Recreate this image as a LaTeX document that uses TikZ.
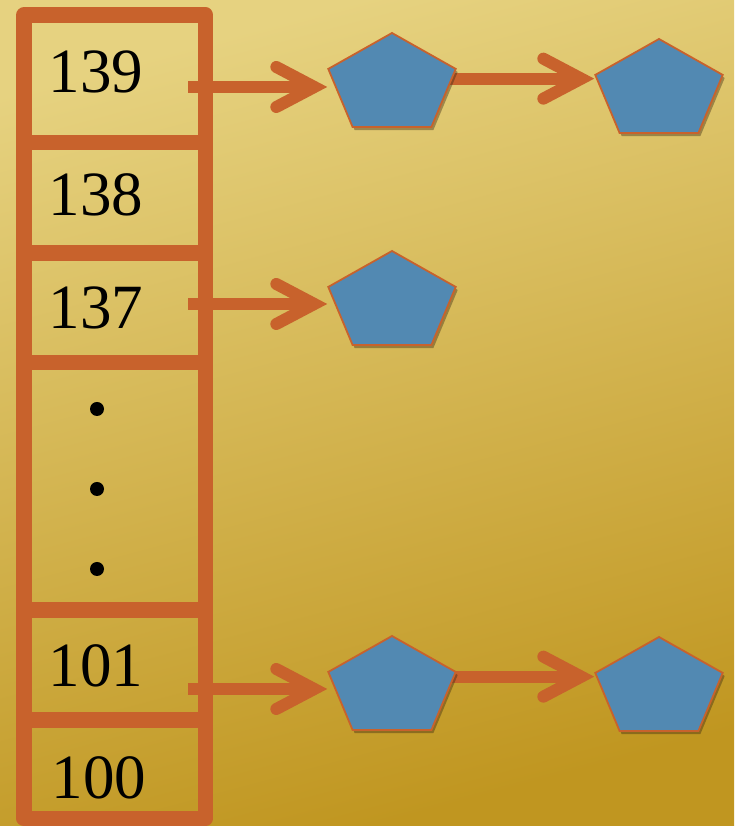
\documentclass[tikz,border=0pt]{standalone}
\usepackage{fontspec}
\setmainfont{Liberation Serif}
\usetikzlibrary{arrows.meta, shapes.geometric, shadows}

\definecolor{rust}{RGB}{200,98,44}
\definecolor{steel}{RGB}{82,137,178}
\definecolor{goldtop}{RGB}{230,210,128}
\definecolor{goldbot}{RGB}{192,150,32}

\pgfdeclarelayer{bg}
\pgfdeclarelayer{arr}
\pgfsetlayers{bg,arr,main}

\tikzstyle{wall}=[draw=rust, line width=15.5pt, line join=round]
\tikzstyle{cellnum}=[anchor=base west, inner sep=0pt, font=\fontsize{63}{66}\selectfont]
\tikzstyle{dot}=[circle, fill=black, inner sep=0pt, minimum size=14pt]
\tikzstyle{pent}=[regular polygon, regular polygon sides=5, minimum size=134pt, inner sep=0pt, yscale=0.776,
  fill=steel, draw=rust, line width=1.8pt,
  drop shadow={shadow xshift=2pt, shadow yshift=-3pt, fill=black!70!brown, opacity=0.4}]
\tikzstyle{link}=[draw=rust, line width=12pt,
  -{Straight Barb[length=38pt, width=40pt, line cap=round, line join=miter]}]

\begin{document}
\begin{tikzpicture}[x=1pt, y=1pt]
  \begin{pgfonlayer}{bg}
    \shade[top color=goldtop, bottom color=goldbot, shading angle=15] (0,0) rectangle (734,826);
  \end{pgfonlayer}
  \useasboundingbox (0,0) rectangle (734,826);

  % hash table
  \draw[wall] (24,7.5) rectangle (205.5,811);
  \foreach \y in {683.5,573,463.5,216,106}
    \draw[wall] (24,\y) -- (205.5,\y);

  \node[cellnum] (n139) at (48.5,733) {139};
  \node[cellnum] (n138) at (48.5,610) {138};
  \node[cellnum] (n137) at (48.5,497) {137};
  \node[cellnum] (n101) at (48.5,139) {101};
  \node[cellnum] (n100) at (51.5,27) {100};
  \foreach \y/\n in {417/1,337/2,257/3}
    \node[dot] (d\n) at (97,\y) {};

  % chained entries
  \node[pent] (a1) at (392,741) {};
  \node[pent] (a2) at (659,735) {};
  \node[pent] (b1) at (392,523) {};
  \node[pent] (c1) at (392,138) {};
  \node[pent] (c2) at (659,137) {};

  \coordinate (s139) at (188,739);
  \coordinate (s137) at (188,522);
  \coordinate (s101) at (188,137);
  \coordinate (ea) at ([yshift=-4pt]a2.corner 2);
  \coordinate (ec) at ([yshift=-4pt]c2.corner 2);

  \begin{pgfonlayer}{arr}
    \draw[link] (s139) -- (s139 -| a1.corner 2);
    \draw[link] (s137) -- (s137 -| b1.corner 2);
    \draw[link] (s101) -- (s101 -| c1.corner 2);
    \draw[link] (a1.center |- ea) -- (ea);
    \draw[link] (c1.center |- ec) -- (ec);
  \end{pgfonlayer}
\end{tikzpicture}
\end{document}
